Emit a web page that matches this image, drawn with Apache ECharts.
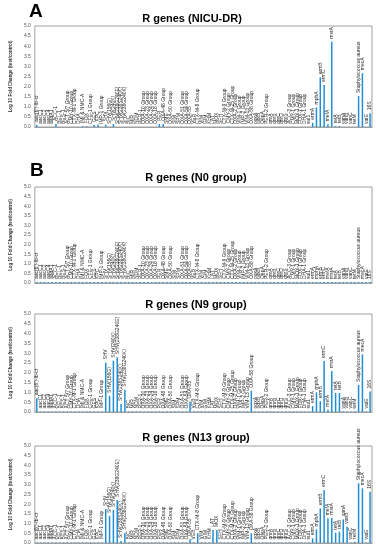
<!DOCTYPE html>
<html><head><meta charset="utf-8">
<script src="https://cdn.jsdelivr.net/npm/echarts@6/dist/echarts.min.js"></script>
<style>html,body{margin:0;padding:0;background:#fff}#c{width:376px;height:550px}</style>
</head><body><div id="c"></div>
<script>
const categories = [
"aac(6')-Ib-cr","aacC1","aacC2","aacC4","aadA1","ACC-1","BEL-1","BES-1",
"ACT 5/7 Group","CMY-10 Group","CTX-M-1 Group","DHA","IMI & NMC-A","FOX","CFE-1 Group","GES",
"KPC","IMP-1 Group","SHV","SHV(156G)","SHV(240K)","SHV(238G240E)","SHV(238S240K)","SHV(238G240K)",
"BIC","MIR","NDM","PER-1","OXA-10 Group","OXA-23 Group","OXA-24 Group","OXA-18 Group",
"PER","OXA-48 Group","SME","OXA-50 Group","SIM","SPM","OXA-51 Group","OXA-54 Group",
"OXA-55","VEB","CTX-M-8 Group","VIM","GIM","KHM","LAT","MOX",
"SFH","CTX-M-9 Group","CMY-2 Group","CTX-M-25 Group","OXA-2 Group","VIM-1 Group","IMP-2 Group","VIM-13 Group",
"OXA-58 Group","oqxA","oqxB","QepA","PER-2 Group","qnrA","qnrB","qnrC",
"qnrD","qnrS","ACC-3 Group","CMY-1 Group","MOX-1 Group","FOX-1 Group","DHA-1 Group","sul1",
"ermA","mphA","ermB","ermC","mefA","msrA","tetA","tetB",
"vanA","vanB","vanC","tetM","Staphylococcus aureus","mecA","vatE","16S"
];
const valuesNICU = [
0.10,0,0,0,0,0.15,0,0,
0,0,0,0,0.04,0.04,0,0.10,
0.12,0,0.12,0,0.15,0,0,0,
0,0,0,0,0,0,0,0,
0.15,0.15,0,0,0,0,0,0,
0,0,0,0,0,0,0,0,
0,0,0.03,0,0,0,0,0,
0,0,0,0,0,0,0,0,
0,0,0,0,0,0,0,0,
0.21,0.97,2.46,2.08,0.13,4.22,0.04,0.04,
0,0,0,0,1.53,2.66,0,0.68
];
const valuesN0 = [
0.05,0.05,0.05,0.05,0.05,0.05,0.05,0.05,
0.05,0.05,0.05,0.05,0.05,0.05,0.05,0.05,
0.05,0.05,0.05,0.05,0.05,0.05,0.05,0.05,
0.05,0.05,0.05,0.05,0.05,0.05,0.05,0.05,
0.05,0.05,0.05,0.05,0.05,0.05,0.05,0.05,
0.05,0.05,0.05,0.05,0.05,0.05,0.05,0.05,
0.05,0.05,0.05,0.05,0.05,0.05,0.05,0.05,
0.05,0.05,0.05,0.05,0.05,0.05,0.05,0.05,
0.05,0.05,0.05,0.05,0.05,0.05,0.05,0.05,
0.05,0.05,0.05,0.05,0.05,0.05,0.05,0.05,
0.05,0.05,0.05,0.05,0.05,0.05,0.05,0.05
];
const valuesN9 = [
0.70,0.03,0.03,0.03,0.03,0.03,0.03,0.03,
0.03,0.03,0.03,0.03,0.03,0.03,0.03,0.03,
0.03,0.03,2.52,0.82,2.62,2.79,0.41,1.14,
0.03,0.03,0.03,0.03,0.03,0.03,0.03,0.03,
0.03,0.03,0.03,0.03,0.03,0.03,0.03,0.03,
0.53,0.03,0.03,0.03,0.03,0.03,0.03,0.03,
0.03,0.03,0.03,0.03,0.03,0.03,0.03,0.03,
1.09,0.03,0.03,0.03,0.03,0.03,0.03,0.03,
0.03,0.03,0.03,0.03,0.03,0.03,0.03,0.03,
0.30,1.00,0.55,2.60,0.12,2.09,0.97,0.97,
0.03,0.03,0.03,0.03,1.38,2.94,0.03,1.04
];
const valuesN13 = [
0.03,0.03,0.03,0.03,0.03,0.03,0.03,0.03,
0.03,0.03,0.03,0.03,0.03,0.03,0.03,0.03,
0.03,0.03,1.75,1.39,1.70,2.22,0.10,0.53,
0.03,0.03,0.03,0.03,0.03,0.03,0.03,0.03,
0.03,0.03,0.03,0.03,0.03,0.03,0.03,0.03,
0.19,0.03,0.50,0.03,0.03,0.03,0.67,0.67,
0.03,0.03,0.03,0.03,0.03,0.03,0.03,0.03,
0.50,0.03,0.03,0.03,0.03,0.03,0.03,0.03,
0.03,0.03,0.03,0.03,0.03,0.03,0.03,0.03,
0.24,0.70,1.79,2.73,1.27,1.30,0.53,0.58,
1.22,0.84,0.03,0.07,3.08,2.82,0.03,2.64
];
const panelTitles = ['R genes (NICU-DR)','R genes (N0 group)','R genes (N9 group)','R genes (N13 group)'];
const panelLetters = ['A','B'];
const yMin = 0, yMax = 5, yStep = 0.5;
const yAxisName = 'Log 10 Fold Change (test/control)';

const FONT = "Arial, 'Liberation Sans', sans-serif";
const grids = [
  {left:26, top:26, width:346, height:101},
  {left:26, top:187, width:346, height:96},
  {left:26, top:314, width:346, height:98},
  {left:26, top:446, width:346, height:97}
];
const titleY = [13, 172, 299, 432];
const titleX = [192, 196, 196, 196];
const seriesValues = [valuesNICU, valuesN0, valuesN9, valuesN13];

const option = {
  animation:false,
  backgroundColor:'#fff',
  title: [
    {text:panelLetters[0], left:29, top:2, padding:0, textStyle:{fontSize:19, fontWeight:'bold', fontFamily:FONT, color:'#000'}},
    {text:panelLetters[1], left:30, top:161, padding:0, textStyle:{fontSize:19, fontWeight:'bold', fontFamily:FONT, color:'#000'}}
  ].concat(panelTitles.map((t,i)=>({text:t, left:titleX[i], top:titleY[i], textAlign:'center', padding:0,
    textStyle:{fontSize:11, fontWeight:'bold', fontFamily:FONT, color:'#000'}}))),
  grid: grids.map(g=>Object.assign({show:true, borderColor:'#a0a0a0', borderWidth:1, backgroundColor:'transparent'}, g)),
  xAxis: grids.map((g,i)=>({type:'category', gridIndex:i, data:categories, boundaryGap:true,
    axisLabel:{show:false}, axisTick:{show:false},
    axisLine:{show:true, lineStyle:{color:'#a0a0a0', width:1}}})),
  yAxis: grids.map((g,i)=>({type:'value', gridIndex:i, min:yMin, max:yMax, interval:yStep,
    name:yAxisName, nameLocation:'middle', nameGap:17,
    nameTextStyle:{fontSize:4.5, fontWeight:'bold', fontFamily:FONT, color:'#333'},
    axisLabel:{fontSize:5, color:'#555', fontFamily:FONT, margin:4, formatter:v=>v.toFixed(1)},
    axisTick:{show:false}, axisLine:{show:false}, splitLine:{show:false}})),
  series: seriesValues.map((vals,i)=>({type:'bar', xAxisIndex:i, yAxisIndex:i, data:vals,
    barWidth:1.5, itemStyle:{color:'#1e8fd6'},
    label:{show:true, position:'top', rotate:90, align:'left', verticalAlign:'middle', distance:3,
      formatter:'{b}', fontSize:5, color:'#2a2a2a', fontFamily:FONT}}))
};
const chart = echarts.init(document.getElementById('c'), null, {renderer:'canvas'});
chart.setOption(option);
</script></body></html>
